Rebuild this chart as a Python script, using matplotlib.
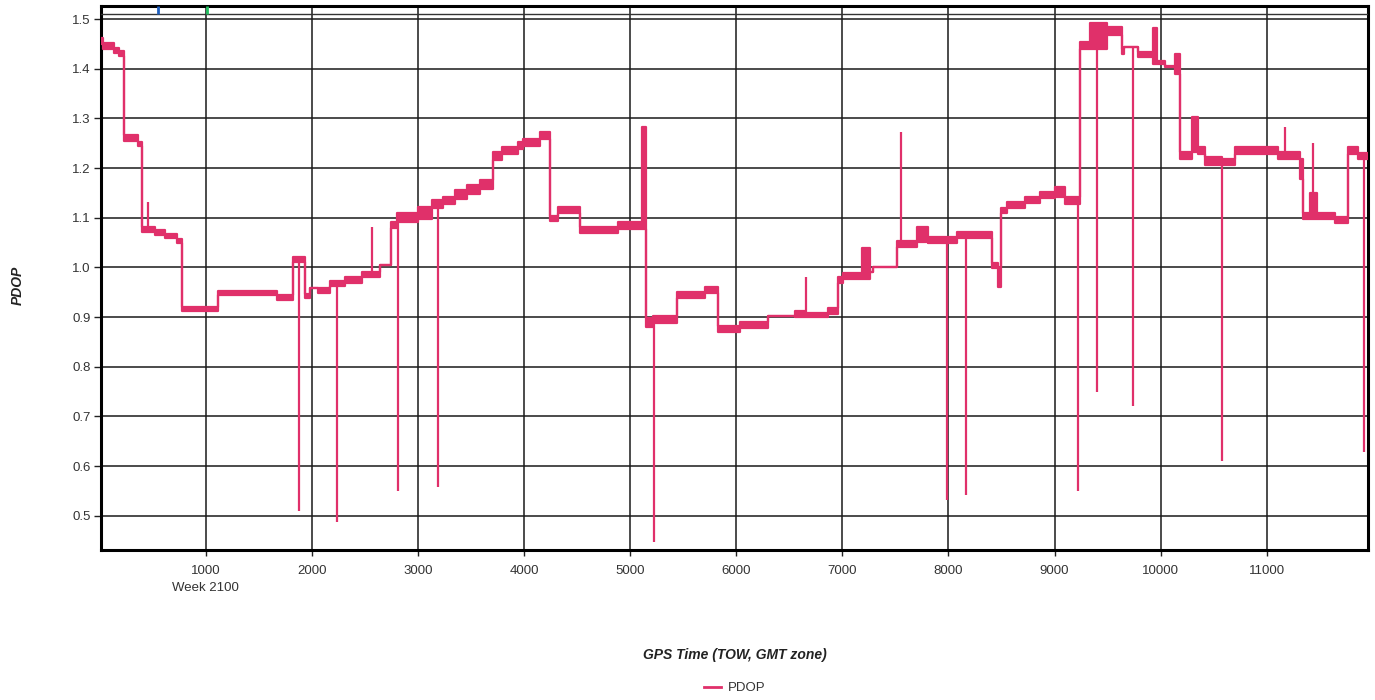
import numpy as np
import matplotlib
matplotlib.use("Agg")
import matplotlib.pyplot as plt
from matplotlib.lines import Line2D
import matplotlib.transforms as mtransforms

plt.rcParams['font.family'] = ['Liberation Sans', 'DejaVu Sans']

# ---- data: PDOP step segments (start time, low, high) ----
seg_t = [10, 32, 136, 183, 230, 362, 400, 522, 616, 730, 777, 1116, 1672, 1823,
         1936, 1983, 2058, 2172, 2313, 2474, 2577, 2643, 2747, 2803, 3002, 3134,
         3237, 3350, 3463, 3586, 3708, 3793, 3944, 3991, 4151, 4245, 4320, 4527,
         4886, 5112, 5150, 5216, 5442, 5706, 5829, 6036, 6300, 6555, 6649, 6866,
         6960, 7007, 7187, 7262, 7290, 7516, 7705, 7808, 8081, 8412, 8469, 8496,
         8553, 8723, 8864, 9005, 9100, 9241, 9335, 9495, 9637, 9656, 9787, 9928,
         9966, 10041, 10136, 10183, 10296, 10353, 10419, 10579, 10702, 11107,
         11314, 11343, 11409, 11475, 11644, 11767, 11861]
seg_lo = [1.450, 1.440, 1.432, 1.426, 1.254, 1.245, 1.072, 1.065, 1.060, 1.050,
          0.912, 0.945, 0.935, 1.010, 0.938, 0.958, 0.949, 0.962, 0.969, 0.981,
          0.980, 1.004, 1.080, 1.092, 1.098, 1.120, 1.128, 1.138, 1.148, 1.158,
          1.217, 1.228, 1.238, 1.245, 1.259, 1.093, 1.110, 1.069, 1.078, 1.078,
          0.879, 0.888, 0.938, 0.949, 0.869, 0.878, 0.902, 0.900, 0.900, 0.906,
          0.968, 0.977, 0.977, 0.990, 1.000, 1.040, 1.052, 1.050, 1.059, 0.998,
          0.960, 1.110, 1.120, 1.130, 1.139, 1.142, 1.128, 1.440, 1.440, 1.468,
          1.430, 1.443, 1.423, 1.410, 1.410, 1.403, 1.390, 1.218, 1.233, 1.229,
          1.207, 1.207, 1.229, 1.218, 1.178, 1.098, 1.098, 1.098, 1.089, 1.229,
          1.218]
seg_hi = [1.462, 1.452, 1.442, 1.436, 1.266, 1.252, 1.082, 1.075, 1.068, 1.058,
          0.920, 0.952, 0.945, 1.021, 0.946, 0.958, 0.958, 0.972, 0.981, 0.991,
          0.990, 1.004, 1.092, 1.110, 1.122, 1.135, 1.142, 1.155, 1.165, 1.175,
          1.232, 1.242, 1.252, 1.259, 1.272, 1.104, 1.122, 1.081, 1.092, 1.283,
          0.898, 0.902, 0.951, 0.961, 0.881, 0.891, 0.902, 0.912, 0.908, 0.918,
          0.980, 0.988, 1.039, 0.990, 1.000, 1.053, 1.081, 1.061, 1.071, 1.008,
          1.000, 1.120, 1.132, 1.142, 1.152, 1.162, 1.142, 1.453, 1.492, 1.484,
          1.440, 1.443, 1.434, 1.482, 1.416, 1.405, 1.430, 1.233, 1.302, 1.243,
          1.222, 1.218, 1.243, 1.233, 1.218, 1.110, 1.150, 1.110, 1.101, 1.243,
          1.230]
t_end = 11955

# short outlier spikes (time, value)
drop_t = [1880, 2238, 2813, 3190, 5226, 7987, 8167, 9222, 9401, 9740, 10579, 11918]
drop_v = [0.510, 0.488, 0.550, 0.558, 0.448, 0.532, 0.542, 0.550, 0.750, 0.720, 0.610, 0.629]
peak_t = [456, 2567, 6658, 7554, 11173, 11437]
peak_v = [1.132, 1.081, 0.981, 1.273, 1.283, 1.250]

# event markers in top strip
event_t = [550, 1012]
event_c = ['#1f5fbf', '#22c060']

x_ticks = [1000, 2000, 3000, 4000, 5000, 6000, 7000, 8000, 9000, 10000, 11000]
y_ticks = [0.5, 0.6, 0.7, 0.8, 0.9, 1.0, 1.1, 1.2, 1.3, 1.4, 1.5]

color = '#E0306A'

fig = plt.figure(figsize=(13.75, 7.0), dpi=100)
ax = fig.add_axes([0.0732, 0.2143, 0.9218, 0.7777])

T = np.array(seg_t + [t_end], dtype=float)
LO = np.array(seg_lo + [seg_lo[-1]])
HI = np.array(seg_hi + [seg_hi[-1]])

ax.fill_between(T, LO, HI, step='post', color=color, lw=0, zorder=3)
ax.step(T, HI, where='post', color=color, lw=1.6, zorder=3)
ax.step(T, LO, where='post', color=color, lw=1.6, zorder=3)

st = np.array(seg_t)
for t, v in zip(drop_t, drop_v):
    i = np.searchsorted(st, t, side='right') - 1
    ax.vlines(t, v, seg_lo[i], color=color, lw=1.6, zorder=3)
for t, v in zip(peak_t, peak_v):
    i = np.searchsorted(st, t, side='right') - 1
    ax.vlines(t, seg_hi[i], v, color=color, lw=1.6, zorder=3)

ax.set_xlim(10, t_end)
ax.set_ylim(0.431, 1.527)

# top strip
ax.axhline(1.51, color='#333333', lw=1.0, zorder=4)
for t, c in zip(event_t, event_c):
    ax.vlines(t, 1.51, 1.527, color=c, lw=2, zorder=4)

ax.set_xticks(x_ticks)
ax.set_yticks(y_ticks)
ax.set_xticklabels([str(v) for v in x_ticks])
ax.set_yticklabels([f'{v:.1f}' for v in y_ticks])
ax.grid(True, color='#1a1a1a', lw=1.1, zorder=1)
ax.set_axisbelow(True)
ax.tick_params(axis='both', labelsize=9.5, colors='#222222', labelcolor='#333333')
ax.tick_params(axis='y', length=5, width=1, pad=2)
ax.tick_params(axis='x', length=4, width=1, pad=7)
for s in ax.spines.values():
    s.set_linewidth(2.2)
    s.set_color('black')

trans = mtransforms.blended_transform_factory(ax.transData, fig.transFigure)
ax.text(1000, 1 - 588 / 700, 'Week 2100', transform=trans, ha='center', va='center',
        fontsize=9.5, color='#333333')

fig.text(18 / 1375, 1 - 285 / 700, 'PDOP', rotation=90, ha='center', va='center',
         fontsize=10, fontweight='bold', fontstyle='italic', color='#222222')
fig.text(735 / 1375, 1 - 655 / 700, 'GPS Time (TOW, GMT zone)', ha='center', va='center',
         fontsize=10, fontweight='bold', fontstyle='italic', color='#222222')

handle = Line2D([], [], color=color, lw=2)
fig.legend([handle], ['PDOP'], loc='center', bbox_to_anchor=(735 / 1375, 1 - 688 / 700),
           frameon=False, fontsize=9.5, handlelength=1.3, handletextpad=0.5,
           labelcolor='#333333')

fig.savefig('out.png', dpi=100)
